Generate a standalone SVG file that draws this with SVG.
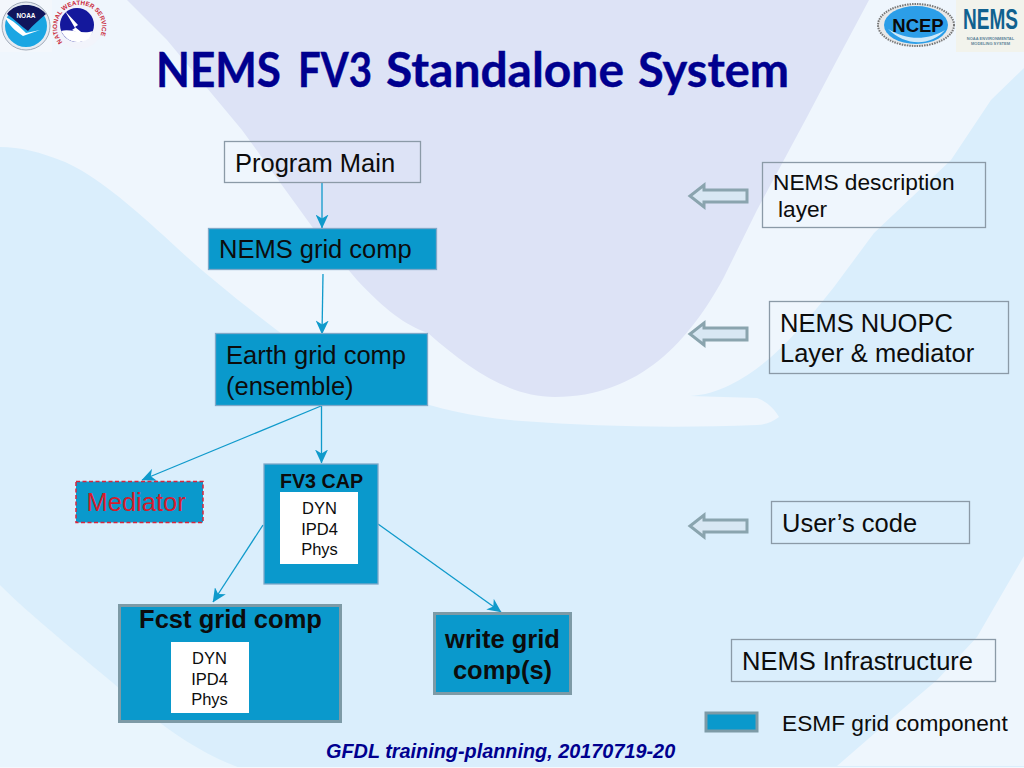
<svg xmlns="http://www.w3.org/2000/svg" width="1024" height="768" viewBox="0 0 1024 768">
<defs>
<marker id="arr" viewBox="0 0 14 13" refX="13.500" refY="6.500" markerWidth="14" markerHeight="13" markerUnits="userSpaceOnUse" orient="auto"><path d="M0,0 L14,6.500 L0,13 L4,6.500 Z" fill="#0f9acb"/></marker>
<path id="nwsring" d="M6.500,17 A22.500,22.500 0 1 1 40.500,17"/>
</defs>
<style>
text{font-family:"Liberation Sans",Arial,sans-serif;fill:#0c0c0c}
.box{fill:none;stroke:#8b9aa7;stroke-width:1.300}
.grid{fill:#0a99cc;stroke:#7fa8c8;stroke-width:1.300}
.gridb{fill:#0a99cc;stroke:#7d9aa6;stroke-width:3}
.inner{fill:#fff}
.l{font-size:25.500px}
.d{font-size:22.700px}
.s{font-size:16.500px;text-anchor:middle}
.b{font-weight:bold}
.c{stroke:#0f9acb;stroke-width:1.300;fill:none;marker-end:url(#arr)}
.ba{fill:#d8e7f3;stroke:#8aa4ae;stroke-width:3}
</style>
<g id="background">
<rect width="1024" height="768" fill="#daeefc"/>
<path d="M0,0 H1024 V68 L991,100 L951,160 L874,233 L834,287 C800,330 770,365 730,385 C715,392 705,395 690,396 L757,398 C768,402 775,410 779,417 C772,422 765,425 757,425 C680,428 600,427 522,421 C480,418 440,410 405,397 C365,385 330,365 294,343 C250,310 205,275 163,235 C130,205 95,175 65,162 C40,152 20,147 0,147 Z" fill="#eff6fd"/>
<path d="M127,0 L167,40 L217,100 L242,130 L313,228 L357,280 C385,310 405,325 428,333 C470,370 510,397 555,397 C640,397 690,340 724,277 L757,210 L807,117 L837,60 L869,0 Z" fill="#dde3f6"/>
<path d="M1024,556 L977,637 L937,680 L890,720 L837,766 H1024 Z" fill="#eef6fd"/>
<path d="M0,585 C40,625 100,670 150,715 C175,735 205,755 240,768 H0 Z" fill="#e9f5fd"/>
<rect y="767" width="1024" height="1" fill="#f4f8fd"/>
</g>
<g id="logo-noaa">
<rect x="0" y="0" width="52" height="52" fill="#f3f7fc"/>
<circle cx="26" cy="26" r="24" fill="#e6ebf2" stroke="#a0aab8" stroke-width="1"/>
<circle cx="26" cy="26" r="21" fill="#1ba6e3"/>
<path d="M7,14 C12,7 19,5 26,5 C33,5 40,7 46,14 C40,19 33,25 28,31 C21,26 14,19 7,14 Z" fill="#10155c"/>
<path d="M5,17 C13,20 20,27 26,33 L40,30 L23,36 C15,31 9,25 5,17 Z" fill="#fff"/>
<text x="26" y="18" font-size="6.500" font-weight="bold" text-anchor="middle" style="fill:#fff">NOAA</text>
</g>
<g id="logo-nws">
<circle cx="79" cy="25" r="24" fill="#f2f4fb"/>
<text transform="translate(56,25)" font-size="6.300" font-weight="bold" style="fill:#c9283a"><textPath href="#nwsring">NATIONAL WEATHER SERVICE</textPath></text>
<circle cx="77" cy="25" r="17" fill="#14189c"/>
<path d="M61,31 C70,28 82,35 93,31 C90,40 84,42 77,42 C70,42 65,38 61,31 Z" fill="#fff"/>
<path d="M65,11 L78,25 L75,27 L91,40 L72,30 L75,28 Z" fill="#fff"/>
</g>
<g id="logo-ncep">
<ellipse cx="916" cy="25" rx="38" ry="21" fill="#e8e8e8" stroke="#777" stroke-width="2" stroke-dasharray="1.500 1"/>
<ellipse cx="916" cy="25" rx="32" ry="19" fill="#2c9ee8"/>
<path d="M888,29 C905,39 925,42 945,30 C930,47 905,46 888,29 Z" fill="#cfe9f9"/>
<text x="918" y="32" font-size="18.500" font-weight="bold" text-anchor="middle" style="fill:#0a0a0a">NCEP</text>
</g>
<g id="logo-nems">
<rect x="956" y="0" width="68" height="52" fill="#f2f3ec"/>
<text transform="translate(963,29) scale(.68,1.050)" font-size="28" font-weight="bold" style="fill:#10618f">NEMS</text>
<text x="990.500" y="40" font-size="4" font-weight="bold" text-anchor="middle" style="fill:#5f8599">NOAA ENVIRONMENTAL</text>
<text x="990.500" y="45" font-size="4" font-weight="bold" text-anchor="middle" style="fill:#5f8599">MODELING SYSTEM</text>
</g>
<text id="title" y="87" font-size="47" font-weight="bold" stroke="#00008f" stroke-width=".4" style="font-family:Lato,'Open Sans',sans-serif;fill:#00008f"><tspan x="156" textLength="125" lengthAdjust="spacingAndGlyphs">NEMS</tspan> <tspan x="298" textLength="74" lengthAdjust="spacingAndGlyphs">FV3</tspan> <tspan x="386" textLength="238" lengthAdjust="spacingAndGlyphs">Standalone</tspan> <tspan x="638" textLength="151" lengthAdjust="spacingAndGlyphs">System</tspan></text>
<g id="connectors">
<path class="c" d="M322,183 V228"/>
<path class="c" d="M323,274 L322,334"/>
<path class="c" d="M321,406 L142,480"/>
<path class="c" d="M321.500,406 V463"/>
<path class="c" d="M263,525 L213,602"/>
<path class="c" d="M378,524 L501,612"/>
</g>
<g id="n-program"><rect class="box" x="224.500" y="141.500" width="196" height="41"/><text class="l" x="235" y="172">Program Main</text></g>
<g id="n-nems"><rect class="grid" x="208.500" y="228.500" width="228" height="41"/><text class="l" x="219" y="258">NEMS grid comp</text></g>
<g id="n-earth"><rect class="grid" x="215.500" y="333.500" width="212" height="72"/><text class="l" x="226" y="364">Earth grid comp</text><text class="l" x="226" y="395">(ensemble)</text></g>
<g id="n-mediator"><rect x="76" y="481.500" width="127" height="41" fill="#0a99cc" stroke="#d8263c" stroke-width="1.500" stroke-dasharray="4 2.500"/><text x="86.500" y="511" font-size="25.500" style="fill:#d51c2c">Mediator</text></g>
<g id="n-fv3"><rect class="grid" x="264" y="464" width="114" height="120"/><text class="b" x="321.500" y="488" font-size="19.700" text-anchor="middle">FV3 CAP</text><rect class="inner" x="280" y="492" width="78" height="72"/><text class="s" x="319.500" y="514">DYN</text><text class="s" x="319.500" y="535">IPD4</text><text class="s" x="319.500" y="555">Phys</text></g>
<g id="n-fcst"><rect class="gridb" x="119.500" y="605.500" width="221" height="116"/><text class="b" x="230.500" y="628" font-size="25.500" text-anchor="middle">Fcst grid comp</text><rect class="inner" x="171" y="642" width="78" height="71"/><text class="s" x="209.500" y="664">DYN</text><text class="s" x="209.500" y="685">IPD4</text><text class="s" x="209.500" y="705">Phys</text></g>
<g id="n-write"><rect class="gridb" x="434.500" y="613.500" width="136" height="80"/><text class="b" x="502.500" y="648" font-size="25.500" text-anchor="middle">write grid</text><text class="b" x="502.500" y="679" font-size="25.500" text-anchor="middle">comp(s)</text></g>
<g id="a1"><path class="ba" d="M747,190 H704 V185 L690,196 L704,207 V202 H747 Z"/></g>
<g id="a2"><path class="ba" d="M747,328 H704 V323 L690,334 L704,345 V340 H747 Z"/></g>
<g id="a3"><path class="ba" d="M747,520 H704 V515 L690,526 L704,537 V532 H747 Z"/></g>
<g id="n-desc"><rect class="box" x="762.500" y="162.500" width="223" height="65"/><text class="d" x="773" y="190">NEMS description</text><text class="d" x="778" y="217">layer</text></g>
<g id="n-nuopc"><rect class="box" x="769.500" y="301.500" width="239" height="72"/><text class="l" x="780" y="332">NEMS NUOPC</text><text class="l" x="780" y="362">Layer &amp; mediator</text></g>
<g id="n-user"><rect class="box" x="771.500" y="501.500" width="198" height="42"/><text class="l" x="782" y="532">User’s code</text></g>
<g id="n-infra"><rect class="box" x="731.500" y="639.500" width="264" height="42"/><text class="l" x="742" y="670">NEMS Infrastructure</text></g>
<g id="legend"><rect class="gridb" x="706" y="713" width="51" height="18"/><text class="d" x="782" y="731">ESMF grid component</text></g>
<text id="footer" x="326" y="758" font-size="19.850" font-weight="bold" font-style="italic" style="fill:#00008f">GFDL training-planning, 20170719-20</text>
</svg>
